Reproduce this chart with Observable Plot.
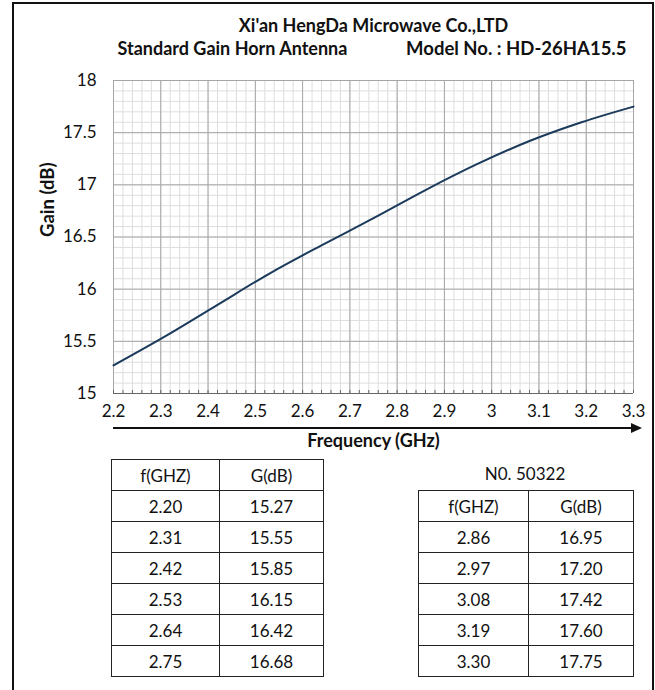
<!DOCTYPE html>
<html>
<head>
<meta charset="utf-8">
<script src="https://cdn.jsdelivr.net/npm/d3@7"></script>
<script src="https://cdn.jsdelivr.net/npm/@observablehq/plot@0.6"></script>
<style>
  html, body { margin: 0; padding: 0; background: #fff; }
  #wrap { position: relative; width: 655px; height: 690px; overflow: hidden; font-family: Lato, "Open Sans", sans-serif; }
  #frame { position: absolute; left: 12px; top: 2px; width: 638px; height: 720px; border: 2px solid #111; box-sizing: content-box; }
  #chart { position: absolute; left: 0; top: 0; }
  table.data { position: absolute; border-collapse: collapse; font-family: Lato, sans-serif; font-size: 17px; color: #111; }
  table.data td { border: 1.5px solid #222; text-align: center; height: 30px; padding: 0; }
  #no { position: absolute; left: 418px; width: 214px; top: 463px; text-align: center; font-size: 17px; color: #111; }
  #arrow { position: absolute; left: 0; top: 0; }
</style>
</head>
<body>
<div id="wrap">
  <div id="frame"></div>
  <div id="chart"></div>
  <svg id="arrow" width="655" height="690"><line x1="113" y1="428" x2="633" y2="428" stroke="#111" stroke-width="2"/><path d="M631,423 L642,428 L631,433 Z" fill="#111"/></svg>
  <div id="no"></div>
</div>
<script>
const freq = [2.20, 2.31, 2.42, 2.53, 2.64, 2.75, 2.86, 2.97, 3.08, 3.19, 3.30];
const gain = [15.27, 15.55, 15.85, 16.15, 16.42, 16.68, 16.95, 17.20, 17.42, 17.60, 17.75];
const xTicks = [2.2, 2.3, 2.4, 2.5, 2.6, 2.7, 2.8, 2.9, 3.0, 3.1, 3.2, 3.3];
const yTicks = [15, 15.5, 16, 16.5, 17, 17.5, 18];
const titleText = "Xi'an HengDa Microwave Co.,LTD";
const subLeft = "Standard Gain Horn Antenna";
const subRight = "Model No. : HD-26HA15.5";
const xLabel = "Frequency (GHz)";
const yLabel = "Gain (dB)";
const serialNo = "N0. 50322";
const colHeads = ["f(GHZ)", "G(dB)"];

const data = freq.map((f, i) => ({f, g: gain[i]}));
const minorX = d3.ticks(2.2, 3.3, 55);
const minorY = d3.ticks(15, 18, 30);

const plot = Plot.plot({
  width: 655,
  height: 690,
  marginLeft: 113,
  marginRight: 22,
  marginTop: 80,
  marginBottom: 297,
  style: { fontFamily: "Lato, sans-serif", background: "transparent", color: "#111" },
  x: { domain: [2.2, 3.3] },
  y: { domain: [15, 18] },
  marks: [
    Plot.gridX(minorX, { stroke: "#dedede", strokeOpacity: 1 }),
    Plot.gridY(minorY, { stroke: "#dedede", strokeOpacity: 1 }),
    Plot.gridX(xTicks, { stroke: "#a6a6a6", strokeOpacity: 1 }),
    Plot.gridY(yTicks, { stroke: "#a6a6a6", strokeOpacity: 1 }),
    Plot.ruleY([15], { stroke: "#666" }),
    Plot.axisX(minorX, { tickSize: 3, dy: -3, text: null, label: null, stroke: "#666" }),
    Plot.line(data, { x: "f", y: "g", stroke: "#1b3a5c", strokeWidth: 2, curve: "monotone-x" }),
    Plot.axisY(yTicks, { tickSize: 0, tickPadding: 17, fontSize: 17, label: null, tickFormat: d => String(d) }),
    Plot.axisX(xTicks, { tickSize: 0, tickPadding: 11, fontSize: 17, label: null, tickFormat: d => String(d) }),
    Plot.text([titleText], { text: d => d, frameAnchor: "top", lineAnchor: "middle", dy: -54, fontSize: 18, fontWeight: "bold" }),
    Plot.text([subLeft], { text: d => d, frameAnchor: "top-left", textAnchor: "start", lineAnchor: "middle", dx: 4, dy: -31, fontSize: 18, fontWeight: "bold" }),
    Plot.text([subRight], { text: d => d, frameAnchor: "top-right", textAnchor: "end", lineAnchor: "middle", dx: -7, dy: -31, fontSize: 18.5, fontWeight: "bold" }),
    Plot.text([yLabel], { text: d => d, frameAnchor: "left", rotate: -90, dx: -65, fontSize: 18.5, fontWeight: "bold" }),
    Plot.text([xLabel], { text: d => d, frameAnchor: "bottom", lineAnchor: "middle", dy: 48, fontSize: 18, fontWeight: "bold" })
  ]
});
document.getElementById("chart").appendChild(plot);

function makeTable(rows, left, top, w1, w2) {
  const t = document.createElement("table");
  t.className = "data";
  t.style.left = left + "px";
  t.style.top = top + "px";
  const all = [colHeads, ...rows.map(d => [d.f.toFixed(2), d.g.toFixed(2)])];
  all.forEach(r => {
    const tr = document.createElement("tr");
    r.forEach((c, j) => {
      const td = document.createElement("td");
      td.textContent = c;
      td.style.width = (j === 0 ? w1 : w2) + "px";
      tr.appendChild(td);
    });
    t.appendChild(tr);
  });
  document.getElementById("wrap").appendChild(t);
}
makeTable(data.slice(0, 6), 111, 459, 107, 103);
makeTable(data.slice(6), 418, 490, 109, 104);
document.getElementById("no").textContent = serialNo;
</script>
</body>
</html>
